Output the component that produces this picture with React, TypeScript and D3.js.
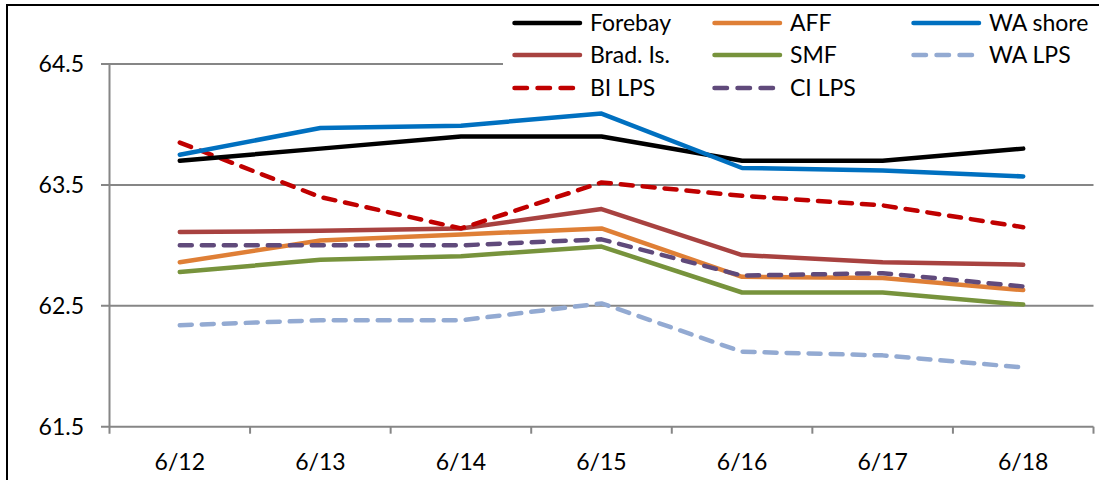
import React from "react";
import * as d3 from "d3";

const categories = ["6/12", "6/13", "6/14", "6/15", "6/16", "6/17", "6/18"];
const yTicks = [61.5, 62.5, 63.5, 64.5];

const forebay = [63.7, 63.8, 63.9, 63.9, 63.7, 63.7, 63.8];
const aff = [62.86, 63.04, 63.09, 63.14, 62.74, 62.73, 62.63];
const waShore = [63.75, 63.97, 63.99, 64.09, 63.64, 63.62, 63.57];
const bradIs = [63.11, 63.12, 63.14, 63.3, 62.92, 62.86, 62.84];
const smf = [62.78, 62.88, 62.91, 62.99, 62.61, 62.61, 62.51];
const waLps = [62.34, 62.38, 62.38, 62.52, 62.12, 62.09, 61.99];
const biLps = [63.85, 63.4, 63.14, 63.52, 63.41, 63.33, 63.15];
const ciLps = [63.0, 63.0, 63.0, 63.05, 62.75, 62.77, 62.66];

const series = [
  { name: "Forebay", values: forebay, color: "#000000", dashed: false },
  { name: "AFF", values: aff, color: "#DF7F36", dashed: false },
  { name: "WA shore", values: waShore, color: "#0070C0", dashed: false },
  { name: "Brad. Is.", values: bradIs, color: "#A84240", dashed: false },
  { name: "SMF", values: smf, color: "#77933C", dashed: false },
  { name: "WA LPS", values: waLps, color: "#93AAD2", dashed: true },
  { name: "BI LPS", values: biLps, color: "#C00000", dashed: true },
  { name: "CI LPS", values: ciLps, color: "#604A7B", dashed: true },
];

// draw order (back to front)
const drawOrder = ["WA LPS", "SMF", "AFF", "CI LPS", "Brad. Is.", "BI LPS", "Forebay", "WA shore"];

export default function App() {
  const W = 1099, H = 480;
  const left = 109.5, right = 1093.5, top = 64, bottom = 426.7;
  const x = d3.scaleBand<string>().domain(categories).range([left, right]);
  const y = d3.scaleLinear().domain([61.5, 64.5]).range([bottom, top]);
  const line = d3
    .line<number>()
    .x((_, i) => (x(categories[i]) as number) + x.bandwidth() / 2)
    .y((d) => y(d));
  const font = "Lato, 'Open Sans', sans-serif";
  const fs = 23;
  const grid = "#868686";
  const ordered = drawOrder.map((n) => series.find((s) => s.name === n)!);
  const legendCols = [512, 712, 911];
  const legendRows = [23, 55, 88];
  return (
    <svg width={W} height={H} style={{ position: "absolute", left: 0, top: 0 }}>
      <rect x={0} y={0} width={W} height={H} fill="#fff" />
      <rect x={7} y={5} width={W + 10} height={H + 10} fill="none" stroke="#000" strokeWidth={2} />
      {yTicks.map((t) => (
        <g key={t}>
          <line x1={101} x2={right} y1={y(t)} y2={y(t)} stroke={grid} strokeWidth={2} />
          <text x={84} y={y(t)} dy="0.35em" textAnchor="end" fontFamily={font} fontSize={fs} fill="#000">
            {t.toFixed(1)}
          </text>
        </g>
      ))}
      <line x1={left} x2={left} y1={top} y2={bottom + 7} stroke={grid} strokeWidth={2} />
      {categories.map((c) => (
        <line key={"t" + c} x1={x(c)! + x.bandwidth()} x2={x(c)! + x.bandwidth()} y1={bottom} y2={bottom + 7} stroke={grid} strokeWidth={2} />
      ))}
      {categories.map((c) => (
        <text key={c} x={x(c)! + x.bandwidth() / 2} y={462} dy="0.35em" textAnchor="middle" fontFamily={font} fontSize={fs} fill="#000">
          {c}
        </text>
      ))}
      {ordered.map((s) => (
        <path
          key={s.name}
          d={line(s.values) || ""}
          fill="none"
          stroke={s.color}
          strokeWidth={4.5}
          strokeLinecap="round"
          strokeLinejoin="round"
          strokeDasharray={s.dashed ? "12 10" : undefined}
        />
      ))}
      <rect x={503} y={7} width={594} height={98} fill="#fff" />
      {series.map((s, i) => {
        const cx = legendCols[i % 3];
        const cy = legendRows[Math.floor(i / 3)];
        return (
          <g key={"l" + s.name}>
            <line
              x1={cx + 2.5}
              x2={cx + 68}
              y1={cy}
              y2={cy}
              stroke={s.color}
              strokeWidth={4.5}
              strokeLinecap="round"
              strokeDasharray={s.dashed ? "12.5 10.5" : undefined}
            />
            <text x={cx + 78} y={cy} dy="0.35em" fontFamily={font} fontSize={fs} fill="#000">
              {s.name}
            </text>
          </g>
        );
      })}
    </svg>
  );
}
